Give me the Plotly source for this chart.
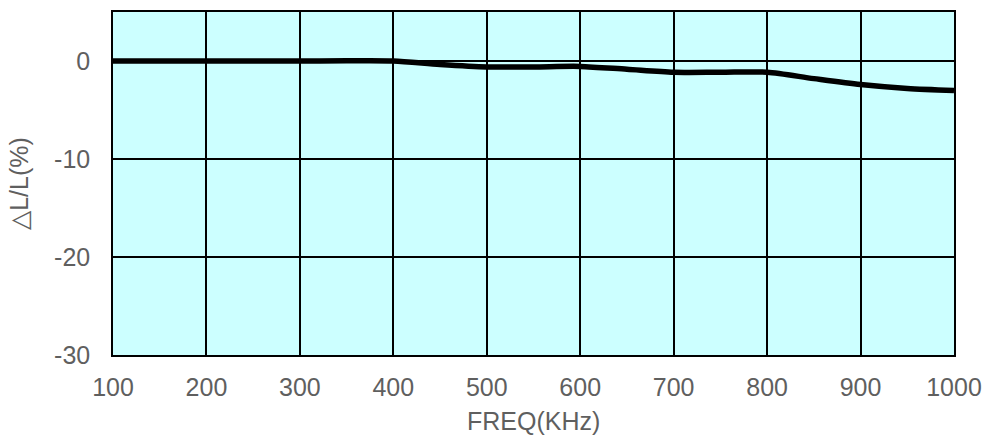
import plotly.graph_objects as go

freq = [100, 200, 300, 350, 400, 450, 500, 550, 600, 650, 700, 750, 800, 850, 900, 950, 1000]
dll = [0.0, 0.0, 0.0, 0.02, 0.0, -0.35, -0.6, -0.6, -0.55, -0.85, -1.15, -1.15, -1.15, -1.8, -2.4, -2.8, -3.0]

x_ticks = [100, 200, 300, 400, 500, 600, 700, 800, 900, 1000]
x_labels = ["100", "200", "300", "400", "500", "600", "700", "800", "900", "1000"]
y_ticks = [-30, -20, -10, 0]
y_labels = ["-30", "-20", "-10", "0"]

fig = go.Figure()
fig.add_trace(go.Scatter(x=freq, y=dll, mode="lines",
                         line=dict(color="black", width=5.5, shape="spline", smoothing=0.8),
                         showlegend=False))

font_grey = "#5f5f5f"
fig.update_layout(
    width=992, height=439,
    margin=dict(l=113, r=37, t=10, b=84),
    paper_bgcolor="white",
    plot_bgcolor="#CCFFFF",
    font=dict(family="Liberation Sans, Arial", size=25, color=font_grey),
    xaxis=dict(range=[100, 1000], tickvals=x_ticks, ticktext=x_labels, showgrid=True, gridcolor="black", gridwidth=1.5,
               showline=True, linecolor="black", linewidth=1.5, mirror=True, zeroline=False,
               ticks="", ticklabelstandoff=9),
    yaxis=dict(range=[-30, 5], tickvals=y_ticks, ticktext=y_labels, showgrid=True, gridcolor="black", gridwidth=1.5,
               showline=True, linecolor="black", linewidth=1.5, mirror=True, zeroline=False,
               ticks="", ticklabelstandoff=16,
               title=dict(text="△L/L(%)", standoff=18, font=dict(size=25, color=font_grey))),
    annotations=[dict(text="FREQ(KHz)", xref="paper", yref="paper", x=0.5, y=-0.191,
                      xanchor="center", yanchor="middle", showarrow=False,
                      font=dict(size=25, color=font_grey))],
)
fig.write_html("out.html")
